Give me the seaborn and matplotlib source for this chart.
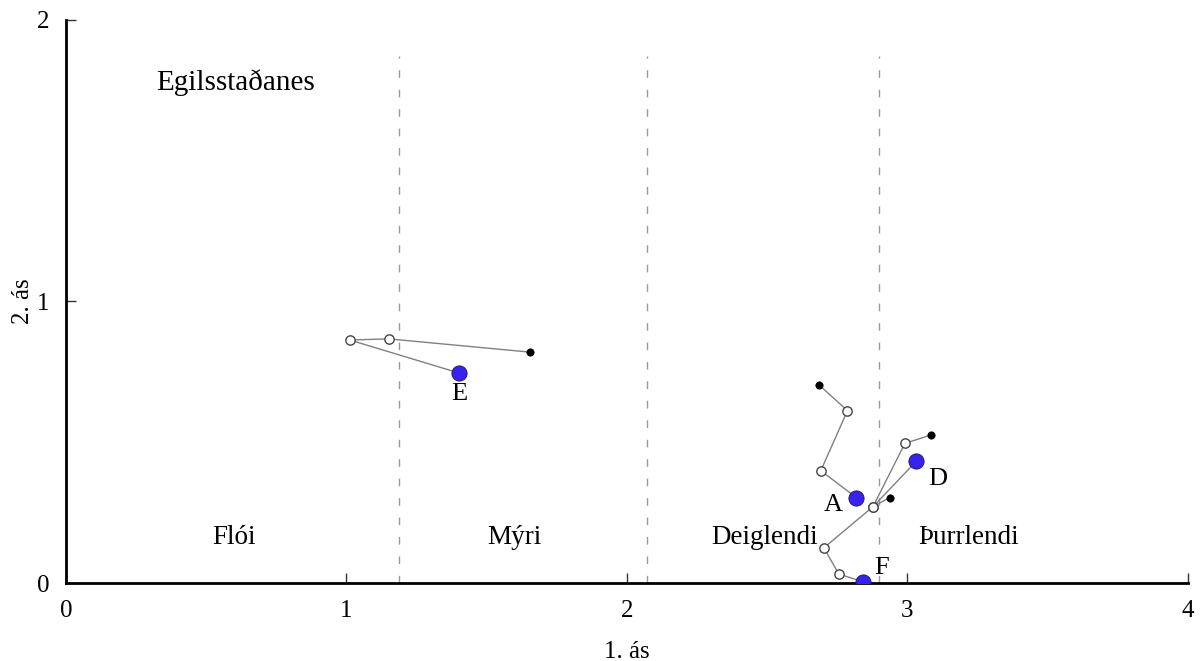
import matplotlib
matplotlib.use("Agg")
import matplotlib.pyplot as plt
import seaborn as sns
import pandas as pd

sns.set_style("white")
plt.rcParams["font.family"] = ["Liberation Serif", "DejaVu Serif"]
plt.rcParams["text.color"] = "black"
plt.rcParams["axes.labelcolor"] = "black"

# ferlar: fyrsti punktur = upphaf (svartur), síðasti = lok (blár)
path_names = ["E", "A", "D", "F"]
path_x = {
    "E": [1.654, 1.151, 1.012, 1.401],
    "A": [2.686, 2.787, 2.692, 2.819],
    "D": [3.086, 2.992, 2.878, 3.033],
    "F": [2.937, 2.878, 2.703, 2.756, 2.843],
}
path_y = {
    "E": [0.820, 0.867, 0.863, 0.746],
    "A": [0.703, 0.612, 0.399, 0.303],
    "D": [0.526, 0.496, 0.271, 0.433],
    "F": [0.303, 0.271, 0.125, 0.032, 0.004],
}

boundaries = [1.187, 2.071, 2.898]
boundary_top = 1.87
zone_names = ["Flói", "Mýri", "Deiglendi", "Þurrlendi"]
zone_x = [0.60, 1.60, 2.49, 3.22]
zone_y = 0.16
site_name = "Egilsstaðanes"

rows = []
for name in path_names:
    xs, ys = path_x[name], path_y[name]
    for i, (x, y) in enumerate(zip(xs, ys)):
        kind = "start" if i == 0 else ("end" if i == len(xs) - 1 else "mid")
        rows.append({"path": name, "order": i, "x": x, "y": y, "kind": kind})
df = pd.DataFrame(rows)

fig, ax = plt.subplots(figsize=(12.02, 6.61), dpi=100)
fig.subplots_adjust(left=0.0549, right=0.988, bottom=0.118, top=0.97)

ax.vlines(boundaries, 0, boundary_top, colors="#999999",
          linestyles=[(0, (5.5, 8.5))], lw=1.0, zorder=1)

sns.lineplot(data=df, x="x", y="y", units="path", estimator=None, sort=False,
             color="#808080", lw=1.0, ax=ax, zorder=2)

mid = df[df.kind == "mid"]
sns.scatterplot(data=mid, x="x", y="y", ax=ax, s=45, color="white",
                edgecolor="#444444", linewidth=1.0, zorder=3)
start = df[df.kind == "start"]
sns.scatterplot(data=start, x="x", y="y", ax=ax, s=28, color="black",
                edgecolor="black", linewidth=0.5, zorder=3)
end = df[df.kind == "end"]
sns.scatterplot(data=end, x="x", y="y", ax=ax, s=120, color="#3a22ee",
                edgecolor="#1a1060", linewidth=0.6, zorder=4)

offsets = {"E": (0, -15), "A": (-17, -5), "D": (15, -13), "F": (13, 10)}
for _, r in end.iterrows():
    ax.annotate(r["path"], (r["x"], r["y"]), xytext=offsets[r["path"]],
                textcoords="offset points", ha="center", va="center", fontsize=19)

for name, x in zip(zone_names, zone_x):
    ax.text(x, zone_y, name, ha="center", va="center", fontsize=19.5)
ax.text(0.606, 1.776, site_name, ha="center", va="center", fontsize=21)

ax.set_xlim(0, 4)
ax.set_ylim(0, 2)
ax.set_xticks([0, 1, 2, 3, 4])
ax.set_yticks([0, 1, 2])
ax.tick_params(direction="in", length=7, width=1, labelsize=18, pad=12,
               bottom=True, left=True, colors="#333333", labelcolor="black")
ax.set_xlabel("1. ás", fontsize=18, labelpad=14)
ax.set_ylabel("2. ás", fontsize=18, labelpad=2)
sns.despine(ax=ax)
for s in ["left", "bottom"]:
    ax.spines[s].set_linewidth(2)
    ax.spines[s].set_color("black")

plt.savefig("out.png", dpi=100)
